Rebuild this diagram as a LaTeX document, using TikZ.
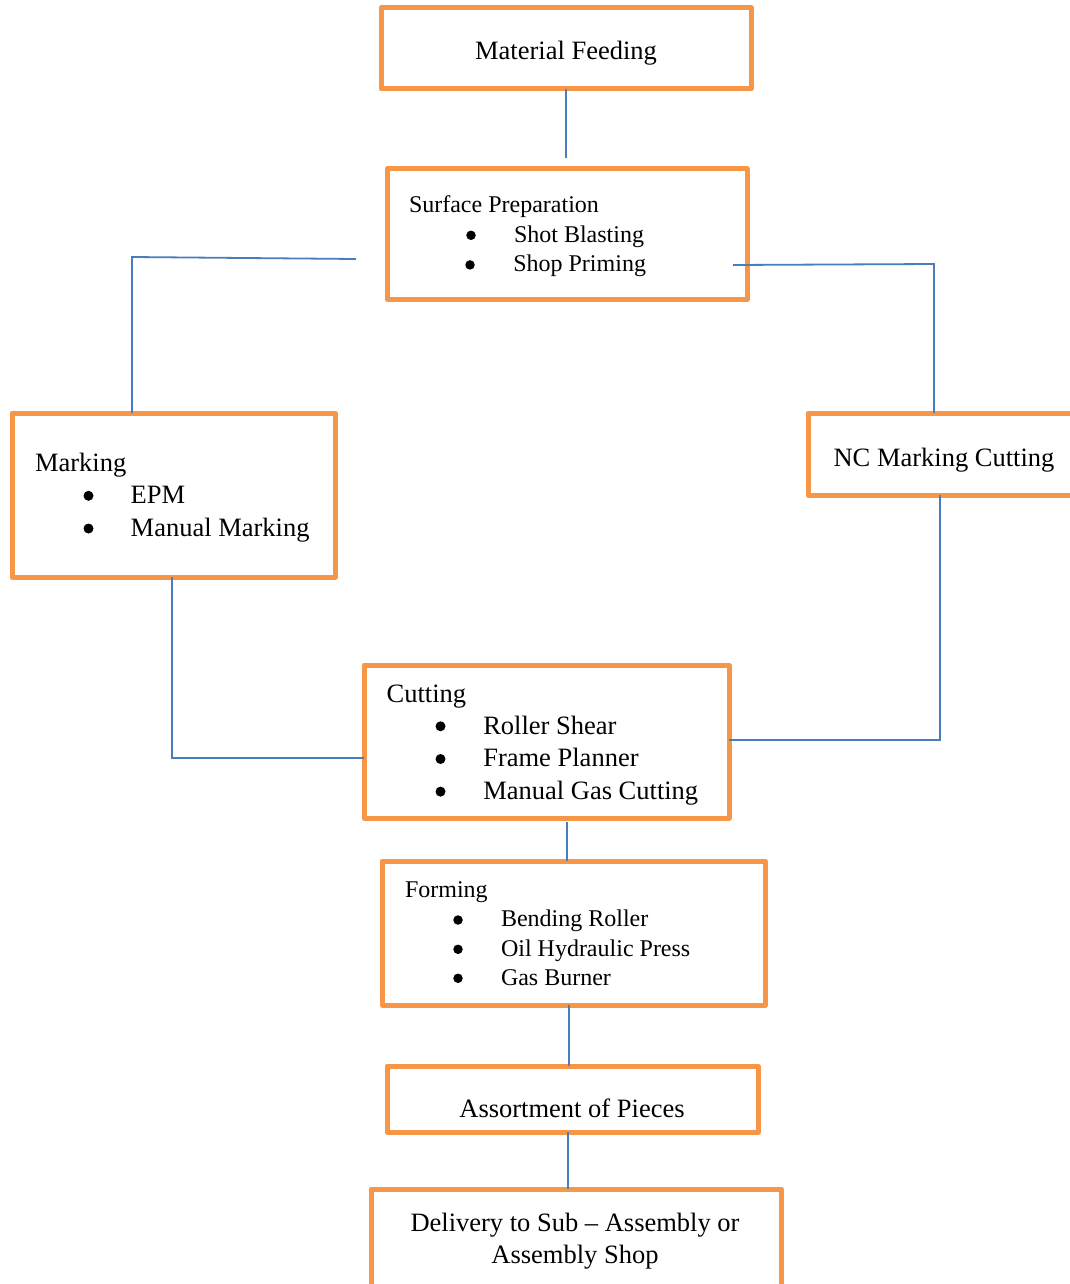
\documentclass[tikz,border=0pt]{standalone}
\usepackage{fontspec}
\setmainfont{Liberation Serif}
\definecolor{boxorange}{HTML}{F79646}
\definecolor{linkblue}{HTML}{4A7EBB}
\begin{document}
\begin{tikzpicture}[x=1pt,y=-1pt,
  stage/.style={draw=boxorange, line width=5pt, line join=round, fill=white,
    inner sep=0pt, outer sep=0pt},
  big/.style={font=\fontsize{26.5}{32}\selectfont, inner sep=0pt, outer sep=0pt},
  small/.style={font=\fontsize{24}{29}\selectfont, inner sep=0pt, outer sep=0pt},
  dot/.style={circle, fill=black, inner sep=0pt, outer sep=0pt, minimum size=10pt},
  smalldot/.style={dot, minimum size=9.5pt},
  link/.style={draw=linkblue, line width=1.8pt}]
\useasboundingbox[fill=white] (0,0) rectangle (1070,1284);

% process stages
\node[stage, minimum width=370, minimum height=81]  (mf) at (566,48.5) {};
\node[stage, minimum width=360, minimum height=130] (sp) at (567,234) {};
\node[stage, minimum width=323, minimum height=164] (mk) at (173.5,495) {};
\node[stage, minimum width=274, minimum height=82]  (nc) at (945,454) {};
\node[stage, minimum width=365, minimum height=153] (ct) at (546.5,741.5) {};
\node[stage, minimum width=383, minimum height=144] (fm) at (573.5,933) {};
\node[stage, minimum width=371, minimum height=66]  (as) at (572.5,1099) {};
\node[stage, minimum width=410, minimum height=111] (dl) at (576,1244.5) {};

% stage texts
\node[big, anchor=base] (mft) at (566,60) {Material Feeding};

\node[small, anchor=base west] (spt) at (409,212.3) {Surface Preparation};
\node[smalldot] (spb1) at (471,235.3) {};
\node[smalldot] (spb2) at (470,264.9) {};
\node[small, anchor=base west] (sp1) at (514,242.3) {Shot Blasting};
\node[small, anchor=base west] (sp2) at (513.3,271.7) {Shop Priming};

\node[big, anchor=base west] (mkt) at (35,471.7) {Marking};
\node[dot] (mkb1) at (88.5,495.8) {};
\node[dot] (mkb2) at (88.5,528.5) {};
\node[big, anchor=base west] (mk1) at (130.7,503.3) {EPM};
\node[big, anchor=base west] (mk2) at (130.7,536) {Manual Marking};

\node[big, anchor=base] (nct) at (944,466.7) {NC Marking Cutting};

\node[big, anchor=base west] (ctt) at (386.7,702.3) {Cutting};
\node[dot] (ctb1) at (440.5,726.3) {};
\node[dot] (ctb2) at (440.5,759) {};
\node[dot] (ctb3) at (440.5,791.6) {};
\node[big, anchor=base west] (ct1) at (483.3,734) {Roller Shear};
\node[big, anchor=base west] (ct2) at (483.3,766.7) {Frame Planner};
\node[big, anchor=base west] (ct3) at (483.3,799.3) {Manual Gas Cutting};

\node[small, anchor=base west] (fmt) at (405,897.3) {Forming};
\node[smalldot] (fmb1) at (458,920) {};
\node[smalldot] (fmb2) at (458,949.3) {};
\node[smalldot] (fmb3) at (458,978.3) {};
\node[small, anchor=base west] (fm1) at (501,926.7) {Bending Roller};
\node[small, anchor=base west] (fm2) at (501,956) {Oil Hydraulic Press};
\node[small, anchor=base west] (fm3) at (501,985) {Gas Burner};

\node[big, anchor=base] (ast) at (572,1117.7) {Assortment of Pieces};

\node[big, anchor=base] (dl1) at (575,1231.7) {Delivery to Sub – Assembly or};
\node[big, anchor=base] (dl2) at (575,1263.3) {Assembly Shop};

% connector bends and free ends
\coordinate (a1) at (566,158);
\coordinate (l1) at (356,259);
\coordinate (l2) at (132,257);
\coordinate (r1) at (733,265);
\coordinate (r2) at (934,264);
\coordinate (r3) at (940,740);
\coordinate (l3) at (172,758);
\coordinate (c1) at (567,822);
\coordinate (f1) at (569,1005);
\coordinate (s1) at (568,1132);

% connectors
\draw[link] (a1 |- mf.south) -- (a1);
\draw[link] (l1) -- (l2) -- (l2 |- mk.north);
\draw[link] (r1) -- (r2) -- (r2 |- nc.north);
\draw[link] (r3 |- nc.south) -- (r3) -- (r3 -| ct.east);
\draw[link] (l3 |- mk.south) -- (l3) -- (l3 -| ct.west);
\draw[link] (c1) -- (c1 |- fm.north);
\draw[link] (f1 |- fm.south) -- (f1 |- as.north);
\draw[link] (s1 |- as.south) -- (s1 |- dl.north);
\end{tikzpicture}
\end{document}
